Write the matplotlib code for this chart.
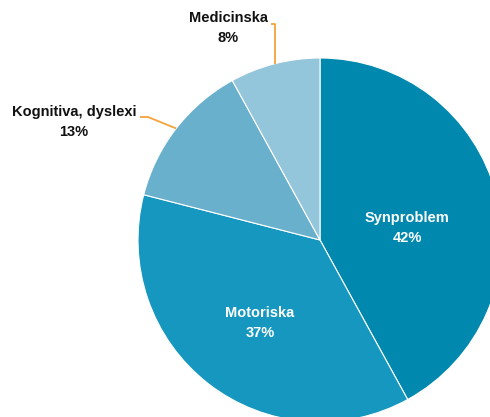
import numpy as np
import matplotlib.pyplot as plt

plt.rcParams['font.family'] = ['Liberation Sans', 'DejaVu Sans']

labels = ['Synproblem', 'Motoriska', 'Kognitiva, dyslexi', 'Medicinska']
values = [42, 37, 13, 8]
colors = ['#0088ae', '#1597bf', '#69b0cd', '#94c6db']

W, H = 490, 417
cx, cy, r = 320, H - 240, 182   # pie centre and radius in pixels

fig = plt.figure(figsize=(W / 100, H / 100), dpi=100)
ax = fig.add_axes([0, 0, 1, 1])

wedges, _ = ax.pie(values, colors=colors, startangle=90, counterclock=False,
                   center=(cx, cy), radius=r,
                   wedgeprops=dict(edgecolor='white', linewidth=0.8))
ax.set_xlim(0, W)
ax.set_ylim(0, H)
ax.set_aspect('equal')
ax.set_axis_off()

fs = 10.5

# labels inside the two big slices
inside = {'Synproblem': (407, 228), 'Motoriska': (260, 323)}
for lab, v in zip(labels, values):
    if lab in inside:
        x, y = inside[lab]
        ax.text(x, H - y, f'{lab}\n{v}%', color='white', fontsize=fs,
                fontweight='bold', ha='center', va='center', linespacing=1.5)

# outside labels with orange leader lines
orange = '#f5a33a'
for w, lab, v in zip(wedges, labels, values):
    if lab in inside:
        continue
    mid = np.deg2rad((w.theta1 + w.theta2) / 2)
    x0, y0 = cx + r * np.cos(mid), cy + r * np.sin(mid)
    if lab == 'Medicinska':
        pts = [(x0, y0), (x0, H - 24), (x0 - 4, H - 24)]
        tx, ty = 228, 28
    else:
        pts = [(x0, y0), (148, H - 117), (140, H - 117)]
        tx, ty = 74, 122
    xs, ys = zip(*pts)
    ax.plot(xs, ys, color=orange, lw=1.3, solid_capstyle='butt')
    ax.text(tx, H - ty, f'{lab}\n{v}%', color='#111111', fontsize=fs,
            fontweight='bold', ha='center', va='center', linespacing=1.5)

fig.savefig('out.png', dpi=100)
